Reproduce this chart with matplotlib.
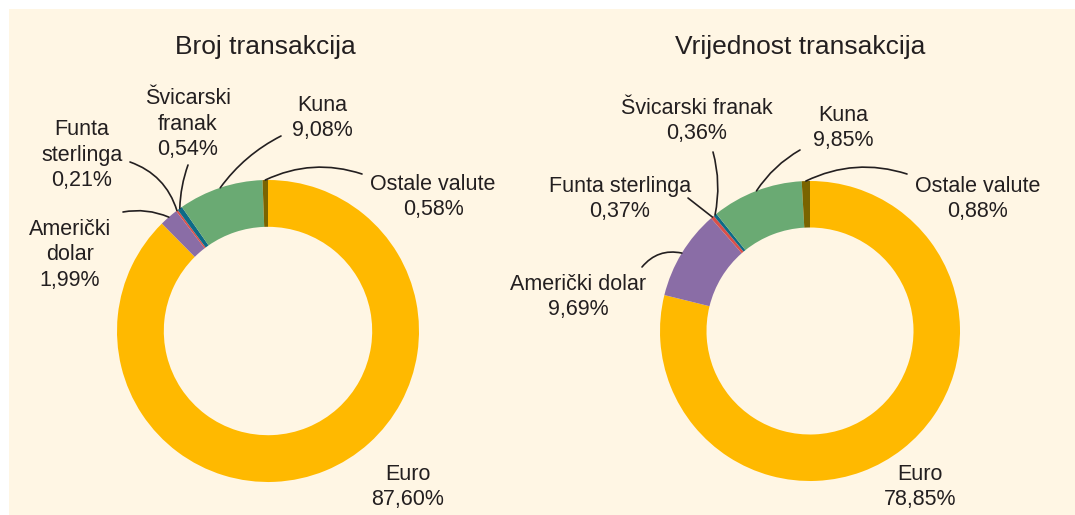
import numpy as np
import matplotlib.pyplot as plt
from matplotlib.patches import Rectangle

plt.rcParams['font.family'] = ['Liberation Sans', 'DejaVu Sans']

valute = ['Euro', 'Američki dolar', 'Funta sterlinga', 'Švicarski franak', 'Kuna', 'Ostale valute']
broj = [87.60, 1.99, 0.21, 0.54, 9.08, 0.58]
vrijednost = [78.85, 9.69, 0.37, 0.36, 9.85, 0.88]
boje = ['#FFB900', '#8A6DA6', '#D9504A', '#0E6A87', '#6AAA73', '#7A6400']

lbl_broj = ['Euro\n87,60%', 'Američki\ndolar\n1,99%', 'Funta\nsterlinga\n0,21%',
            'Švicarski\nfranak\n0,54%', 'Kuna\n9,08%', 'Ostale valute\n0,58%']
lbl_vrij = ['Euro\n78,85%', 'Američki dolar\n9,69%', 'Funta sterlinga\n0,37%',
            'Švicarski franak\n0,36%', 'Kuna\n9,85%', 'Ostale valute\n0,88%']

W, H = 1075, 515
txt = '#231F20'

fig = plt.figure(figsize=(W / 100, H / 100), dpi=100, facecolor='white')
fig.patches.append(Rectangle((9 / W, 0), 1, 1 - 9 / H, transform=fig.transFigure,
                             facecolor='#FFF6E4', edgecolor='none', zorder=-5))


def fp(x, y):
    # image pixel -> figure fraction
    return (x / W, 1 - y / H)


def donut(cx, cy, r, vals, labels, title, tpos, lpos, cpos, rads):
    ax = fig.add_axes([(cx - r) / W, (H - cy - r) / H, 2 * r / W, 2 * r / H])
    ax.pie(vals, colors=boje, startangle=90, counterclock=False, radius=1,
           wedgeprops=dict(width=0.31, linewidth=0))
    ax.set_xlim(-1, 1)
    ax.set_ylim(-1, 1)
    ax.set_aspect('equal')
    ax.axis('off')
    fig.text(*fp(*tpos), title, ha='center', va='center', fontsize=19, color=txt)
    total = sum(vals)
    cum = np.cumsum([0] + list(vals))
    for i, lab in enumerate(labels):
        fig.text(*fp(*lpos[i]), lab, ha='center', va='center', fontsize=15.5,
                 color=txt, linespacing=1.3)
        if cpos[i] is None:
            continue
        th = np.deg2rad(90 - 360 * (cum[i] + vals[i] / 2) / total)
        ax.annotate('', xy=(np.cos(th), np.sin(th)), xycoords='data',
                    xytext=fp(*cpos[i]), textcoords='figure fraction',
                    arrowprops=dict(arrowstyle='-', color=txt, lw=1.2,
                                    shrinkA=0, shrinkB=0,
                                    connectionstyle='arc3,rad=%s' % rads[i]),
                    annotation_clip=False)


donut(268, 331, 151, broj, lbl_broj, 'Broj transakcija', (265, 47),
      [(408, 487), (70, 255), (82, 155), (188, 124), (322, 118), (433, 197)],
      [None, (123, 212), (130, 162), (188, 165), (281, 136), (362, 174)],
      [0, -0.15, -0.25, 0.08, 0.12, 0.2])

donut(810, 331, 150, vrijednost, lbl_vrij, 'Vrijednost transakcija', (800, 47),
      [(920, 487), (578, 297), (620, 199), (697, 121), (843, 128), (978, 199)],
      [None, (642, 267), (688, 198), (713, 152), (800, 150), (907, 174)],
      [0, -0.3, 0.0, -0.12, 0.12, 0.2])

fig.savefig('out.png', dpi=100, facecolor=fig.get_facecolor())
